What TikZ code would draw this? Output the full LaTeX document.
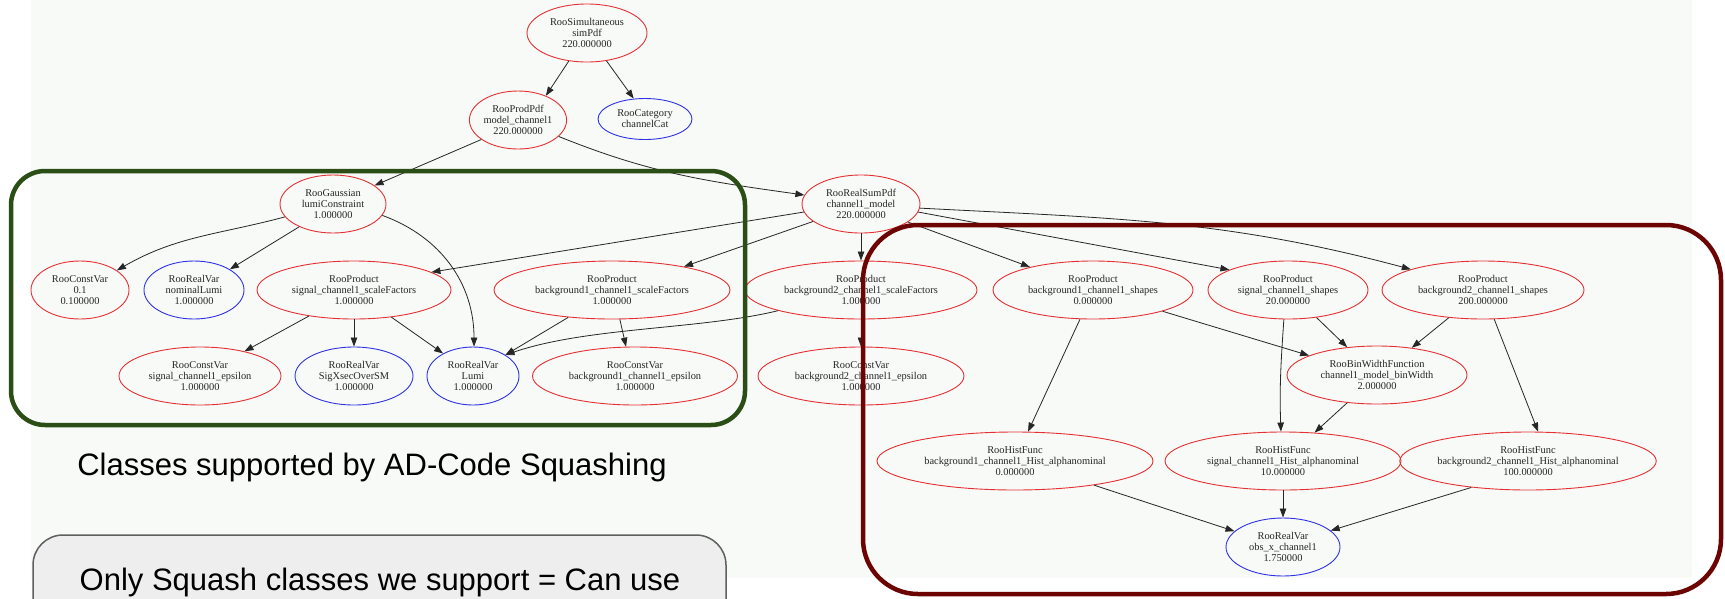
\documentclass[tikz,border=0pt]{standalone}
\usepackage{fontspec}
\newfontfamily\gvfamily{Liberation Serif}
\newfontfamily\slidefamily{Liberation Sans}
\usetikzlibrary{shapes.geometric,arrows.meta}
\definecolor{gvred}{RGB}{228,48,52}
\definecolor{gvblue}{RGB}{48,48,228}
\definecolor{boxgreen}{RGB}{42,78,22}
\definecolor{boxmaroon}{RGB}{108,4,4}
\definecolor{bgtint}{RGB}{248,250,247}
\definecolor{notefill}{RGB}{238,238,238}
\definecolor{notedraw}{RGB}{95,95,95}
\begin{document}
\begin{tikzpicture}[x=1pt,y=1pt,
 gv/.style={ellipse, draw, line width=0.9pt, inner sep=0pt, align=center, text=black!85,
   font=\gvfamily\fontsize{10.4}{11.2}\selectfont, minimum height=58pt},
 rn/.style={gv, draw=gvred},
 bn/.style={gv, draw=gvblue},
 conn/.style={draw=black!85, line width=0.8pt, -{Triangle[length=9pt,width=6.5pt]}},
 hlbox/.style={line width=4.5pt},
 slidetext/.style={font=\slidefamily\fontsize{31}{36}\selectfont, text=black, inner sep=0pt, anchor=base}
]
\useasboundingbox (0,0) rectangle (1725,-598);
\fill[white] (0,0) rectangle (1725,-598);
\fill[bgtint] (31,0) rectangle (1692,-578);

% note box
\draw[fill=notefill, draw=notedraw, line width=1.5pt, rounded corners=30pt] (33,-535) rectangle (726,-660);
\node[slidetext] (lblclasses) at (372,-475) {Classes supported by AD-Code Squashing};
\node[slidetext] (lblnote) at (380,-590) {Only Squash classes we support = Can use};

% nodes
\node[rn, minimum width=120pt] (simPdf) at (587,-33) {RooSimultaneous\\simPdf\\220.000000};
\node[rn, minimum width=96pt] (model) at (518,-120) {RooProdPdf\\model\_channel1\\220.000000};
\node[bn, minimum width=94pt, minimum height=41pt] (cat) at (645,-119) {RooCategory\\channelCat};
\node[rn, minimum width=106pt] (gauss) at (333,-204) {RooGaussian\\lumiConstraint\\1.000000};
\node[rn, minimum width=118pt] (sum) at (861,-204) {RooRealSumPdf\\channel1\_model\\220.000000};

\node[rn, minimum width=98pt] (cv01) at (80,-290) {RooConstVar\\0.1\\0.100000};
\node[bn, minimum width=100pt] (nomL) at (194,-290) {RooRealVar\\nominalLumi\\1.000000};
\node[rn, minimum width=194pt] (sigSF) at (354,-290) {RooProduct\\signal\_channel1\_scaleFactors\\1.000000};
\node[rn, minimum width=236pt] (b1SF) at (612,-290) {RooProduct\\background1\_channel1\_scaleFactors\\1.000000};
\node[rn, minimum width=232pt] (b2SF) at (861,-290) {RooProduct\\background2\_channel1\_scaleFactors\\1.000000};
\node[rn, minimum width=200pt] (b1sh) at (1093,-290) {RooProduct\\background1\_channel1\_shapes\\0.000000};
\node[rn, minimum width=160pt] (sigsh) at (1288,-290) {RooProduct\\signal\_channel1\_shapes\\20.000000};
\node[rn, minimum width=202pt] (b2sh) at (1483,-290) {RooProduct\\background2\_channel1\_shapes\\200.000000};

\node[rn, minimum width=162pt] (sigeps) at (200,-376) {RooConstVar\\signal\_channel1\_epsilon\\1.000000};
\node[bn, minimum width=118pt] (sigx) at (354,-376) {RooRealVar\\SigXsecOverSM\\1.000000};
\node[bn, minimum width=92pt] (lumi) at (473,-376) {RooRealVar\\Lumi\\1.000000};
\node[rn, minimum width=205pt] (b1eps) at (635,-376) {RooConstVar\\background1\_channel1\_epsilon\\1.000000};
\node[rn, minimum width=206pt] (b2eps) at (861,-376) {RooConstVar\\background2\_channel1\_epsilon\\1.000000};
\node[rn, minimum width=180pt] (binw) at (1377,-375) {RooBinWidthFunction\\channel1\_model\_binWidth\\2.000000};

\node[rn, minimum width=276pt] (b1h) at (1015,-461) {RooHistFunc\\background1\_channel1\_Hist\_alphanominal\\0.000000};
\node[rn, minimum width=236pt] (sigh) at (1283,-461) {RooHistFunc\\signal\_channel1\_Hist\_alphanominal\\10.000000};
\node[rn, minimum width=228pt] (b2h) at (1528,-461) {RooHistFunc\\background2\_channel1\_Hist\_alphanominal\\100.000000};
\node[bn, minimum width=114pt] (obs) at (1283,-547) {RooRealVar\\obs\_x\_channel1\\1.750000};

% edges
\draw[conn] (simPdf.-123) -- (model.41);
\draw[conn] (simPdf.-55) -- (cat.119);
\draw[conn] (model.-152) -- (gauss.24);
\draw[conn] (model.-22) to[out=-22,in=172] (sum.171);
\draw[conn] (gauss.-165) to[out=195,in=30] (cv01.28);
\draw[conn] (gauss.-146) -- (nomL.30);
\draw[conn] (gauss.-13) to[out=-20,in=90] (lumi.88);
\draw[conn] (sum.-172) -- (sigSF.13);
\draw[conn] (sum.-160) -- (b1SF.18);
\draw[conn] (sum.south) -- (b2SF.north);
\draw[conn] (sum.-21) -- (b1sh.160);
\draw[conn] (sum.-8) -- (sigsh.161);
\draw[conn] (sum.-4) to[out=-3,in=165] (b2sh.164);
\draw[conn] (sigSF.-150) -- (sigeps.29);
\draw[conn] (sigSF.south) -- (sigx.north);
\draw[conn] (sigSF.-36) -- (lumi.143);
\draw[conn] (b1SF.-148) -- (lumi.33);
\draw[conn] (b1SF.-75) -- (b1eps.107);
\draw[conn] (b2SF.-166) .. controls +(-78,-19) and +(82,28) .. (lumi.33);
\draw[conn] (b2SF.south) -- (b2eps.north);
\draw[conn] (b1sh.-17) -- (binw.164);
\draw[conn] (b1sh.-114) -- (b1h.66);
\draw[conn] (sigsh.-44) -- (binw.137);
\draw[conn] (sigsh.-98) to[out=-94,in=92] (sigh.94);
\draw[conn] (b2sh.-141) -- (binw.38);
\draw[conn] (b2sh.-69) -- (b2h.71);
\draw[conn] (binw.-137) -- (sigh.42);
\draw[conn] (b1h.-17) -- (obs.162);
\draw[conn] (sigh.south) -- (obs.north);
\draw[conn] (b2h.-155) -- (obs.19);

% highlight frames
\draw[hlbox, draw=boxgreen, rounded corners=34pt] (11,-171) rectangle (745,-425);
\draw[hlbox, draw=boxmaroon, rounded corners=55pt] (863,-225) rectangle (1721,-594);
\end{tikzpicture}
\end{document}
